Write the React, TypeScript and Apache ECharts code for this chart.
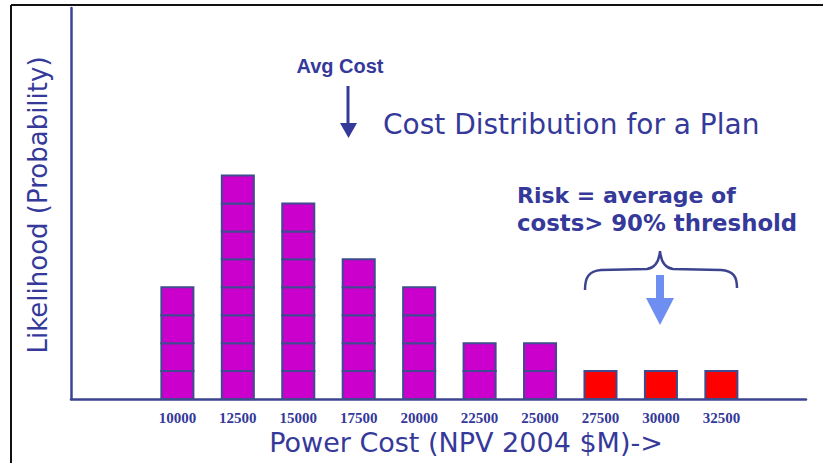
import React, { useEffect, useRef } from "react";
import * as echarts from "echarts";

// ---- data ----
const costs = [10000, 12500, 15000, 17500, 20000, 22500, 25000, 27500, 30000, 32500];
const counts = [4, 8, 7, 5, 4, 2, 2, 1, 1, 1];
const riskThreshold = 27500; // costs at or above the 90% threshold
const xMin = 5600;
const xMax = 36000;
const yMax = 14;

const NAVY = "#35399a";
const AXIS = "#3c4490";
const MAGENTA = "#cc00cc";
const RED = "#ff0000";
const LIGHTBLUE = "#6f8ef2";

echarts.graphic.registerShape(
  "brace",
  echarts.graphic.extendPath(
    "M0 40 C0 27 4 21 16 20 L62 19 C70 18 74 12 75 1 C76 12 80 18 88 19 L136 20 C148 21 152 26 152 38",
    {}
  )
);

export default function App() {
  const ref = useRef<HTMLDivElement>(null);
  useEffect(() => {
    if (!ref.current) return;
    const chart = echarts.init(ref.current, undefined, { renderer: "svg" });
    const data = costs.map((c, i) => [c, counts[i]]);
    chart.setOption({
      animation: false,
      backgroundColor: "#ffffff",
      grid: { left: 71, right: 17, top: 8, bottom: 64 },
      xAxis: {
        type: "value",
        min: xMin,
        max: xMax,
        splitLine: { show: false },
        axisTick: { show: false },
        axisLine: { show: true, onZero: false, lineStyle: { color: AXIS, width: 2.5 } },
        axisLabel: {
          customValues: costs,
          formatter: (v: number) => String(v),
          margin: 11,
          color: NAVY,
          fontFamily: "Liberation Serif",
          fontWeight: "bold",
          fontSize: 15,
        },
      },
      yAxis: {
        type: "value",
        min: 0,
        max: yMax,
        splitLine: { show: false },
        axisTick: { show: false },
        axisLabel: { show: false },
        axisLine: { show: true, lineStyle: { color: AXIS, width: 2.5 } },
      },
      series: [
        {
          type: "custom",
          data,
          encode: { x: 0, y: 1 },
          renderItem: (params: any, api: any) => {
            const x = api.value(0);
            const n = api.value(1);
            const base = api.coord([x, 0]);
            const unit = api.size([0, 1])[1];
            const w = api.size([2500, 0])[0] * 0.53;
            const fill = x >= riskThreshold ? RED : MAGENTA;
            const children: any[] = [];
            for (let i = 0; i < n; i++) {
              children.push({
                type: "rect",
                shape: { x: base[0] - w / 2, y: base[1] - (i + 1) * unit, width: w, height: unit },
                style: { fill, stroke: "#3f4a8f", lineWidth: 2 },
              });
            }
            return { type: "group", children };
          },
        },
      ],
      graphic: [
        // frame
        { type: "line", shape: { x1: 11, y1: 5, x2: 823, y2: 5 }, style: { stroke: "#111", lineWidth: 2 } },
        { type: "line", shape: { x1: 11, y1: 5, x2: 11, y2: 463 }, style: { stroke: "#111", lineWidth: 2 } },
        // axis names
        {
          type: "text",
          x: 38,
          y: 205,
          rotation: Math.PI / 2,
          style: {
            text: "Likelihood (Probability)",
            fill: NAVY,
            font: "26px 'DejaVu Sans'",
            textAlign: "center",
            textVerticalAlign: "middle",
          },
        },
        {
          type: "text",
          x: 466,
          y: 442,
          style: {
            text: "Power Cost (NPV 2004 $M)->",
            fill: NAVY,
            font: "27px 'DejaVu Sans'",
            textAlign: "center",
            textVerticalAlign: "middle",
          },
        },
        // title
        {
          type: "text",
          x: 383,
          y: 124,
          style: {
            text: "Cost Distribution for a Plan",
            fill: NAVY,
            font: "28px 'DejaVu Sans'",
            textAlign: "left",
            textVerticalAlign: "middle",
          },
        },
        // Avg cost
        {
          type: "text",
          x: 340,
          y: 66,
          style: {
            text: "Avg Cost",
            fill: NAVY,
            font: "bold 20px 'Liberation Sans'",
            textAlign: "center",
            textVerticalAlign: "middle",
          },
        },
        { type: "line", shape: { x1: 348, y1: 86, x2: 348, y2: 124 }, style: { stroke: NAVY, lineWidth: 3 } },
        {
          type: "polygon",
          shape: { points: [[340, 123], [357, 123], [348.5, 138]] },
          style: { fill: NAVY },
        },
        // risk text
        {
          type: "text",
          x: 517,
          y: 195,
          style: {
            text: "Risk = average of",
            fill: NAVY,
            font: "bold 22px 'DejaVu Sans'",
            textAlign: "left",
            textVerticalAlign: "middle",
          },
        },
        {
          type: "text",
          x: 517,
          y: 223,
          style: {
            text: "costs> 90% threshold",
            fill: NAVY,
            font: "bold 22.8px 'DejaVu Sans'",
            textAlign: "left",
            textVerticalAlign: "middle",
          },
        },
        // brace
        {
          type: "brace",
          x: 585,
          y: 250,
          style: { fill: "none", stroke: AXIS, lineWidth: 2.5 },
        },
        // blue arrow
        { type: "rect", shape: { x: 656, y: 275, width: 8, height: 24 }, style: { fill: LIGHTBLUE } },
        {
          type: "polygon",
          shape: { points: [[646, 298], [674, 298], [660, 325]] },
          style: { fill: LIGHTBLUE },
        },
      ],
    });
    return () => chart.dispose();
  }, []);
  return (
    <div
      ref={ref}
      style={{ position: "fixed", left: 0, top: 0, width: 823, height: 463, background: "#fff" }}
    />
  );
}
